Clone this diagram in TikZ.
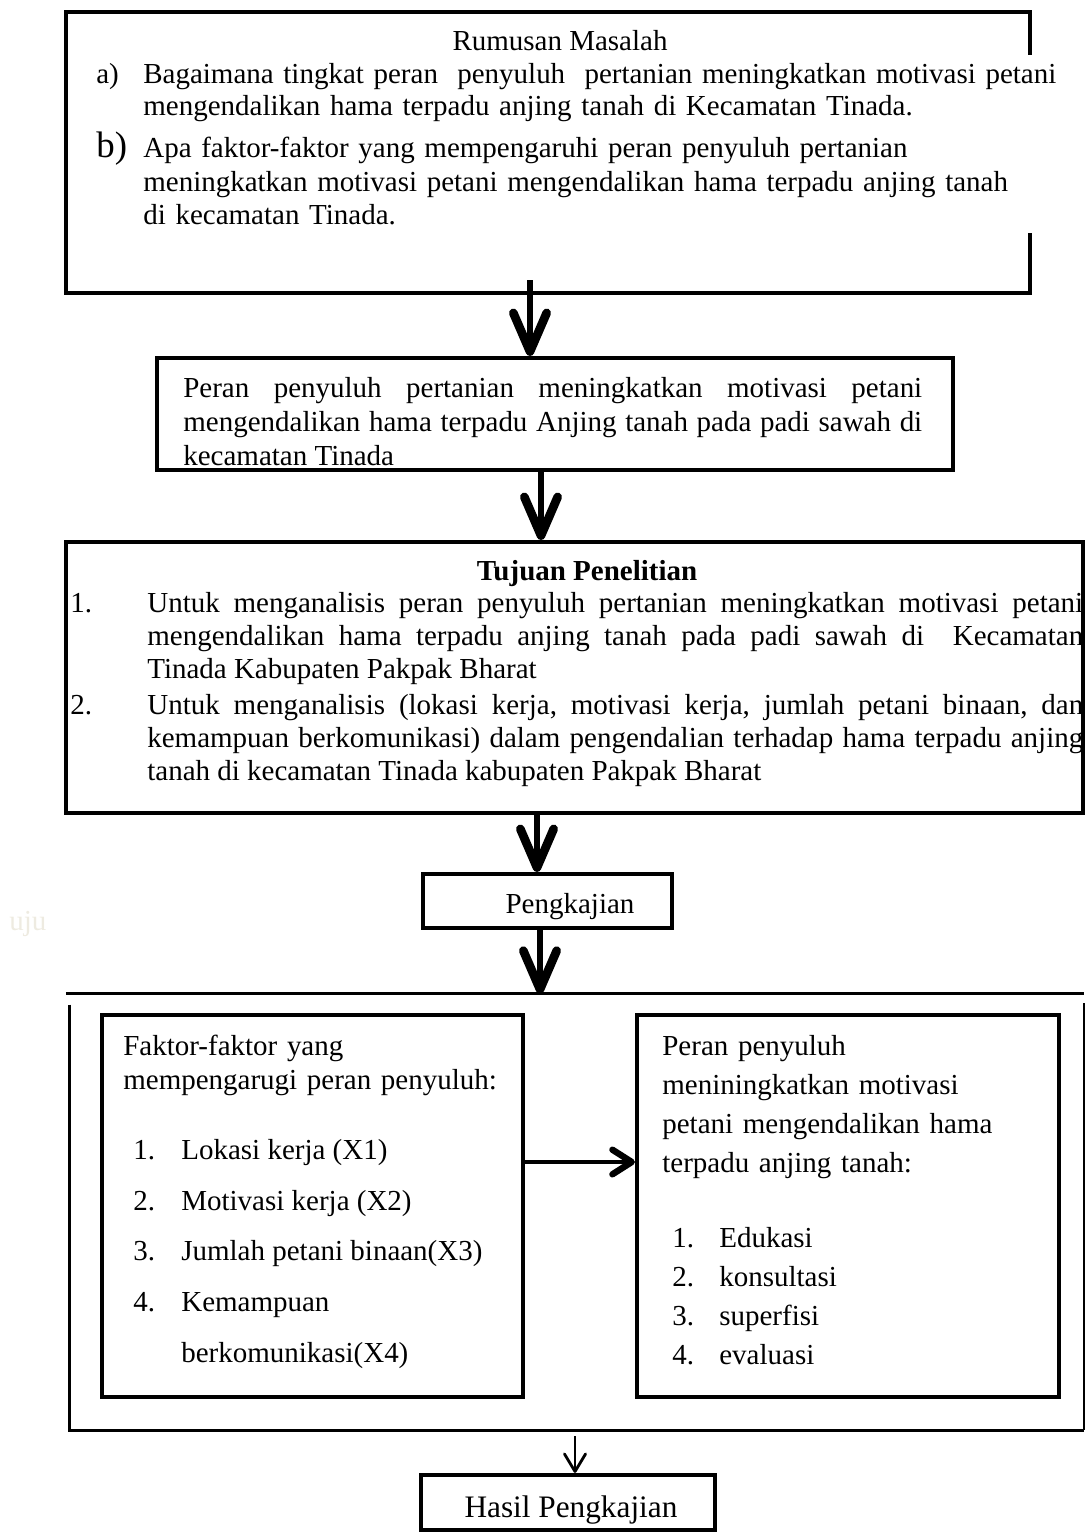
\documentclass[tikz,border=0pt]{standalone}
\usepackage{fontspec}
\setmainfont{Liberation Serif}
\usetikzlibrary{arrows.meta}
\definecolor{fainttext}{HTML}{EEEBE1}
\frenchspacing

\begin{document}
\begin{tikzpicture}[
    x=0.02cm, y=-0.02cm,
    box/.style={draw, line width=2.4pt, inner sep=0pt},
    txt/.style={inner sep=0pt, anchor=base west, font=\fontsize{16.5}{19.3}\selectfont},
    bigarrow/.style={line width=3.3pt, -{Straight Barb[length=22pt, width=19pt, line width=0pt 1.5, round]}},
    midarrow/.style={line width=2.8pt, -{Straight Barb[length=11pt, width=14pt, line width=0pt 1.3, round]}},
    smallarrow/.style={line width=1.6pt, -{Straight Barb[length=10pt, width=12pt, round]}},
    frame/.style={line width=1.7pt}
]
\useasboundingbox (0,0) rectangle (1087,1534);

% Rumusan Masalah
\node[inner sep=0pt, minimum width=19.28cm, minimum height=5.62cm] (rumusan) at (548,152.5) {};
\draw[line width=2.4pt] ([yshift=-0.86cm]rumusan.north east) -- (rumusan.north east) -- (rumusan.north west) -- (rumusan.south west) -- (rumusan.south east) -- ([yshift=1.2cm]rumusan.south east);
\node[txt, anchor=base] (judul1) at (560,51) {Rumusan Masalah};
\node[txt] (ra) at (96,84) {a)};
\node[txt, text width=19cm, align=left, font=\fontsize{16.5}{18.2}\selectfont] (rateks) at (143,84) {Bagaimana tingkat peran\ \ penyuluh\ \ pertanian\ meningkatkan motivasi petani\\mengendalikan hama terpadu anjing\ tanah di\ Kecamatan Tinada.};
\node[txt, font=\fontsize{21}{24}\selectfont] (rb) at (96,158) {b)};
\node[txt, text width=19cm, align=left, font=\fontsize{16.5}{18.8}\selectfont] (rbteks) at (143,158) {Apa faktor-faktor yang mempengaruhi peran penyuluh pertanian\\meningkatkan motivasi petani mengendalikan hama terpadu anjing tanah\\di\ kecamatan Tinada.};

% Peran penyuluh
\node[box, minimum width=15.92cm, minimum height=2.24cm] (peran) at (555,414) {};
\node[txt, text width=14.78cm, align=justify, font=\fontsize{16.5}{19.6}\selectfont] (peranteks) at (183,397) {Peran penyuluh pertanian meningkatkan motivasi petani\linebreak mengendalikan hama terpadu Anjing tanah pada padi sawah di\linebreak kecamatan Tinada};

% Tujuan Penelitian
\node[box, minimum width=20.34cm, minimum height=5.42cm] (tujuan) at (574.5,677.5) {};
\node[txt, anchor=base, font=\fontsize{16.5}{19.3}\selectfont\bfseries] (judul2) at (587,580) {Tujuan Penelitian};
\node[txt] (t1) at (70,612) {1.};
\node[txt, text width=18.72cm, align=justify, font=\fontsize{16.5}{19}\selectfont] (t1teks) at (147,612) {Untuk menganalisis peran penyuluh pertanian meningkatkan motivasi petani\linebreak mengendalikan hama terpadu anjing tanah pada padi sawah di\ \ Kecamatan\linebreak Tinada Kabupaten Pakpak Bharat};
\node[txt] (t2) at (70,714) {2.};
\node[txt, text width=18.72cm, align=justify, font=\fontsize{16.5}{19}\selectfont] (t2teks) at (147,714) {Untuk menganalisis (lokasi kerja, motivasi kerja, jumlah petani binaan, dan\linebreak kemampuan berkomunikasi) dalam pengendalian terhadap hama terpadu anjing\linebreak tanah di kecamatan Tinada kabupaten Pakpak Bharat};

% Pengkajian
\node[box, minimum width=4.98cm, minimum height=1.08cm] (kaji) at (547.5,901) {};
\node[txt, anchor=base] (kajiteks) at (570,913) {Pengkajian};
\node[txt, text=fainttext] (samar) at (9,930) {uju};

% wadah bawah
\node[inner sep=0pt, minimum width=20.36cm, minimum height=8.72cm] (wadah) at (575,1212) {};
\draw[frame] (wadah.north west) -- (wadah.north east);
\draw[frame] ([xshift=0.08cm,yshift=-0.22cm]wadah.north west) -- ([xshift=0.08cm]wadah.south west) -- (wadah.south east);
\draw[line width=1.1pt] (wadah.south east) -- ([yshift=-0.18cm]wadah.north east);

\node[box, minimum width=8.42cm, minimum height=7.64cm] (faktor) at (312.5,1206) {};
\node[txt, text width=8cm, align=left, font=\fontsize{16.5}{19.4}\selectfont] (faktorjudul) at (123,1055) {Faktor-faktor yang\\mempengarugi peran penyuluh:};
\node[txt] (f1) at (133,1159) {1.};
\node[txt] (f1teks) at (181,1159) {Lokasi kerja (X1)};
\node[txt] (f2) at (133,1210) {2.};
\node[txt] (f2teks) at (181,1210) {Motivasi kerja (X2)};
\node[txt] (f3) at (133,1260) {3.};
\node[txt] (f3teks) at (181,1260) {Jumlah petani binaan(X3)};
\node[txt] (f4) at (133,1311) {4.};
\node[txt] (f4teks) at (181,1311) {Kemampuan};
\node[txt] (f4lanjut) at (181,1362) {berkomunikasi(X4)};

\node[box, minimum width=8.44cm, minimum height=7.64cm] (peranbox) at (848,1206) {};
\node[txt, text width=8cm, align=left, font=\fontsize{16.5}{22.2}\selectfont] (peranjudul) at (662,1055) {Peran penyuluh\\meniningkatkan motivasi\\petani mengendalikan hama\\terpadu anjing tanah:};
\node[txt] (p1) at (672,1247) {1.};
\node[txt] (p1teks) at (719,1247) {Edukasi};
\node[txt] (p2) at (672,1286) {2.};
\node[txt] (p2teks) at (719,1286) {konsultasi};
\node[txt] (p3) at (672,1325) {3.};
\node[txt] (p3teks) at (719,1325) {superfisi};
\node[txt] (p4) at (672,1364) {4.};
\node[txt] (p4teks) at (719,1364) {evaluasi};

% Hasil
\node[box, minimum width=5.88cm, minimum height=1.1cm] (hasil) at (568,1502.5) {};
\node[txt, anchor=base, font=\fontsize{17.8}{20}\selectfont] (hasilteks) at (571,1517) {Hasil Pengkajian};

% panah
\coordinate (s1) at (530,280);
\coordinate (s2) at (541,470);
\coordinate (s3) at (537,813);
\coordinate (s4) at (540,928);
\coordinate (s5) at (575,1436);
\coordinate (s6) at (523,1162);
\draw[bigarrow] (s1) -- (s1 |- peran.north);
\draw[bigarrow] (s2) -- (s2 |- tujuan.north);
\draw[bigarrow] (s3) -- (s3 |- kaji.north);
\draw[bigarrow] (s4) -- (s4 |- wadah.north);
\draw[midarrow] (s6) -- (s6 -| peranbox.west);
\draw[smallarrow] (s5) -- (s5 |- hasil.north);

\end{tikzpicture}
\end{document}
